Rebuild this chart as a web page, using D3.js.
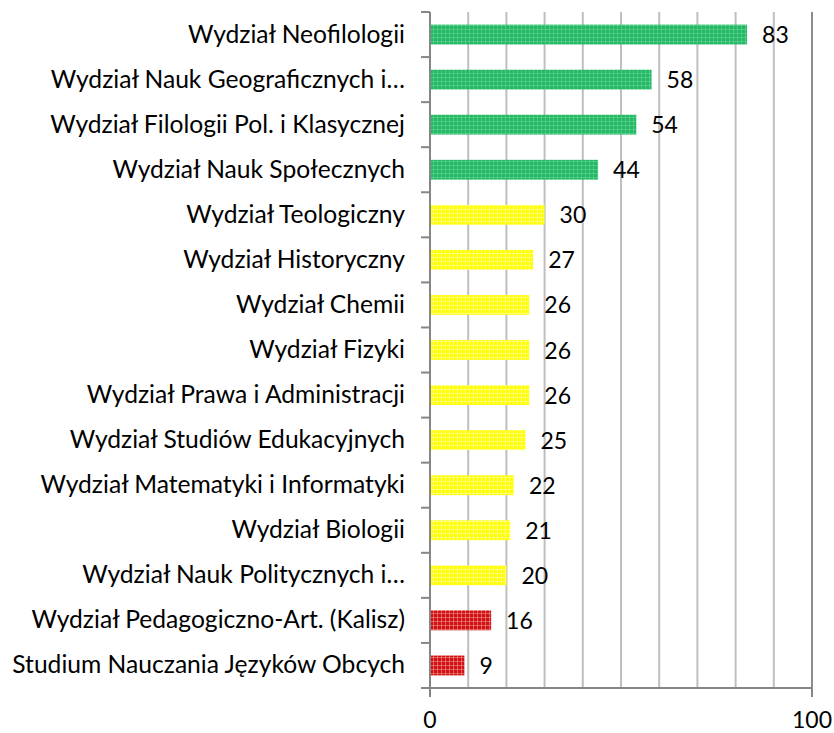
<!DOCTYPE html>
<html>
<head>
<meta charset="utf-8">
<script src="https://cdn.jsdelivr.net/npm/d3@7"></script>
<style>
  body { margin: 0; background: #fff; }
  text { font-family: Lato, "Open Sans", sans-serif; fill: #000; }
</style>
</head>
<body>
<script>
// data
var categories = [
    "Wydział Neofilologii",
    "Wydział Nauk Geograficznych i…",
    "Wydział Filologii Pol. i Klasycznej",
    "Wydział Nauk Społecznych",
    "Wydział Teologiczny",
    "Wydział Historyczny",
    "Wydział Chemii",
    "Wydział Fizyki",
    "Wydział Prawa i Administracji",
    "Wydział Studiów Edukacyjnych",
    "Wydział Matematyki i Informatyki",
    "Wydział Biologii",
    "Wydział Nauk Politycznych i…",
    "Wydział Pedagogiczno-Art. (Kalisz)",
    "Studium Nauczania Języków Obcych"
];
var values = [83, 58, 54, 44, 30, 27, 26, 26, 26, 25, 22, 21, 20, 16, 9];
var groups = ["g", "g", "g", "g", "y", "y", "y", "y", "y", "y", "y", "y", "y", "r", "r"];
var xTicks = [0, 100];

var width = 834;
var height = 733;

var margin = {top: 12, right: 22, bottom: 45, left: 430};

var svg = d3.select("body")
    .append("svg")
    .attr("width", width)
    .attr("height", height);

// patterned fills
var fills = {
    g: {base: "#23b866", light: "#5fd08f"},
    y: {base: "#ffff00", light: "#ffff99"},
    r: {base: "#d01010", light: "#f08080"}
};
var defs = svg.append("defs");
Object.keys(fills).forEach(function(k) {
    var p = defs.append("pattern")
        .attr("id", "pat-" + k)
        .attr("patternUnits", "userSpaceOnUse")
        .attr("width", 4)
        .attr("height", 4);
    p.append("rect").attr("width", 4).attr("height", 4).attr("fill", fills[k].base);
    p.append("rect").attr("x", 1).attr("width", 1).attr("height", 4).attr("fill", fills[k].light).attr("opacity", 0.7);
    p.append("rect").attr("y", 1).attr("width", 4).attr("height", 1).attr("fill", fills[k].light).attr("opacity", 0.7);
});

var x = d3.scaleLinear()
    .domain([0, 100])
    .range([margin.left, width - margin.right]);

var y = d3.scaleBand()
    .domain(categories)
    .range([margin.top, height - margin.bottom])
    .paddingInner(0.56)
    .paddingOuter(0.28);

// gridlines
svg.append("g")
    .selectAll("line")
    .data(d3.range(10, 100, 10))
    .enter().append("line")
    .attr("x1", function(d) { return x(d); })
    .attr("x2", function(d) { return x(d); })
    .attr("y1", margin.top)
    .attr("y2", height - margin.bottom)
    .attr("stroke", "#bfbfbf")
    .attr("stroke-width", 2);

// right edge line
svg.append("line")
    .attr("x1", x(100)).attr("x2", x(100))
    .attr("y1", margin.top).attr("y2", height - margin.bottom)
    .attr("stroke", "#8c8c8c")
    .attr("stroke-width", 2);

// bars
svg.append("g")
    .selectAll("rect")
    .data(values)
    .enter().append("rect")
    .attr("x", x(0))
    .attr("y", function(d, i) { return y(categories[i]); })
    .attr("width", function(d) { return x(d) - x(0); })
    .attr("height", y.bandwidth())
    .attr("fill", function(d, i) { return "url(#pat-" + groups[i] + ")"; });

// value labels
svg.append("g")
    .selectAll("text")
    .data(values)
    .enter().append("text")
    .attr("x", function(d) { return x(d) + 15; })
    .attr("y", function(d, i) { return y(categories[i]) + y.bandwidth() / 2 + 8.5; })
    .style("font-size", "23px")
    .text(function(d) { return d; });

// y axis
var step = y.step();
var yAxis = svg.append("g");
yAxis.append("line")
    .attr("x1", x(0)).attr("x2", x(0))
    .attr("y1", margin.top).attr("y2", height - margin.bottom)
    .attr("stroke", "#868686").attr("stroke-width", 2);
yAxis.selectAll(".tick")
    .data(d3.range(categories.length + 1))
    .enter().append("line")
    .attr("x1", x(0) - 9).attr("x2", x(0))
    .attr("y1", function(i) { return margin.top + i * step; })
    .attr("y2", function(i) { return margin.top + i * step; })
    .attr("stroke", "#868686").attr("stroke-width", 2);
var labels = yAxis.selectAll("text")
    .data(categories)
    .enter().append("text")
    .attr("x", x(0) - 25)
    .attr("y", function(d) { return y(d) + y.bandwidth() / 2 + 8; })
    .attr("text-anchor", "end")
    .style("font-size", "20px")
    .text(function(d) { return d; });

// fit label size so the longest one spans like the original (about 393px)
var longest = d3.max(labels.nodes(), function(n) { return n.getComputedTextLength(); });
var fs = 20 * 393 / longest;
labels.style("font-size", fs + "px");

// x axis
var xAxis = svg.append("g");
xAxis.append("line")
    .attr("x1", x(0) - 9).attr("x2", x(100))
    .attr("y1", height - margin.bottom).attr("y2", height - margin.bottom)
    .attr("stroke", "#868686").attr("stroke-width", 2);
xAxis.selectAll(".tick")
    .data(xTicks)
    .enter().append("line")
    .attr("x1", function(d) { return x(d); })
    .attr("x2", function(d) { return x(d); })
    .attr("y1", height - margin.bottom)
    .attr("y2", height - margin.bottom + 9)
    .attr("stroke", "#868686").attr("stroke-width", 2);
xAxis.selectAll("text")
    .data(xTicks)
    .enter().append("text")
    .attr("x", function(d) { return x(d); })
    .attr("y", height - margin.bottom + 40)
    .attr("text-anchor", "middle")
    .style("font-size", "23px")
    .text(function(d) { return d; });
</script>
</body>
</html>
